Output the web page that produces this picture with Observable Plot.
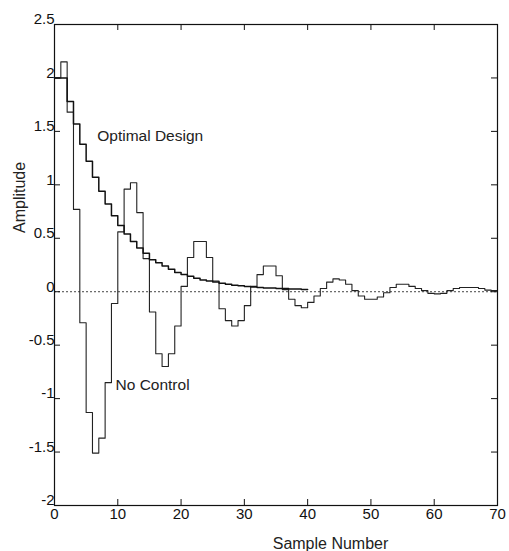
<!DOCTYPE html>
<html>
<head>
<meta charset="utf-8">
<script src="https://cdn.jsdelivr.net/npm/d3@7"></script>
<script src="https://cdn.jsdelivr.net/npm/@observablehq/plot@0.6"></script>
<style>
  html, body { margin: 0; padding: 0; background: #fff; }
  #chart { width: 509px; height: 551px; }
</style>
</head>
<body>
<div id="chart"></div>
<script>
// Sample values, one value per sample interval
const noControl = [
  2.00, 2.15, 1.68, 0.77, -0.29, -1.13, -1.51, -1.37, -0.85, -0.11,
  0.56, 0.96, 1.02, 0.74, 0.31, -0.19, -0.58, -0.70, -0.58, -0.32,
  0.05, 0.32, 0.47, 0.47, 0.32, 0.10, -0.16, -0.27, -0.32, -0.27,
  -0.13, 0.05, 0.16, 0.24, 0.24, 0.15, 0.02, -0.07, -0.13, -0.15,
  -0.10, -0.04, 0.03, 0.09, 0.12, 0.11, 0.07, 0.01, -0.04, -0.07,
  -0.07, -0.05, -0.01, 0.04, 0.07, 0.07, 0.05, 0.03, 0.01, -0.015,
  -0.02, -0.015, 0.01, 0.03, 0.04, 0.04, 0.04, 0.03, 0.015, 0.01
];
const optimalDesign = [
  2.00, 2.00, 1.78, 1.57, 1.38, 1.22, 1.07, 0.94, 0.82, 0.71,
  0.62, 0.54, 0.47, 0.41, 0.36, 0.30, 0.27, 0.24, 0.21, 0.18,
  0.16, 0.145, 0.125, 0.11, 0.10, 0.09, 0.08, 0.07, 0.06, 0.055,
  0.05, 0.045, 0.04, 0.035, 0.035, 0.03, 0.03, 0.025, 0.025, 0.02
];
const xTicks = [0, 10, 20, 30, 40, 50, 60, 70];
const yTicks = [-2, -1.5, -1, -0.5, 0, 0.5, 1, 1.5, 2, 2.5];
const seriesLabels = ["Optimal Design", "No Control"];
const labelPos = [{x: 6.75, y: 1.455}, {x: 9.64, y: -0.875}];
const xTitle = "Sample Number";
const yTitle = "Amplitude";

// stairs: each value holds from sample k to k+1
function stairs(vals) {
  const pts = vals.map((v, i) => ({x: i, y: v}));
  pts.push({x: vals.length, y: vals[vals.length - 1]});
  return pts;
}

const W = 509, H = 551;
const mL = 54, mR = 12, mT = 24, mB = 46;
const pw = W - mL - mR, ph = H - mT - mB;
const tl = 6;
const font = "Liberation Sans, Arial, Helvetica, sans-serif";

const chart = Plot.plot({
  width: W, height: H,
  marginLeft: mL, marginRight: mR, marginTop: mT, marginBottom: mB,
  style: {fontFamily: font, fontSize: "15px", background: "#fff", color: "#111"},
  x: {domain: [0, 70]},
  y: {domain: [-2, 2.5]},
  marks: [
    Plot.ruleY([0], {stroke: "#444", strokeDasharray: "2,2", strokeWidth: 1}),
    Plot.line(stairs(noControl), {x: "x", y: "y", curve: "step-after", stroke: "#222", strokeWidth: 1.1}),
    Plot.line(stairs(optimalDesign), {x: "x", y: "y", curve: "step-after", stroke: "#111", strokeWidth: 1.5}),
    Plot.text(seriesLabels, {x: (d, i) => labelPos[i].x, y: (d, i) => labelPos[i].y, text: d => d,
      textAnchor: "start", fontSize: 15.5, fill: "#222"}),
    // inward ticks
    Plot.tickY(yTicks, {y: d => d, insetRight: pw - tl, stroke: "#111"}),
    Plot.tickY(yTicks, {y: d => d, insetLeft: pw - tl, stroke: "#111"}),
    Plot.tickX(xTicks, {x: d => d, insetTop: ph - tl, stroke: "#111"}),
    Plot.tickX(xTicks, {x: d => d, insetBottom: ph - tl, stroke: "#111"}),
    Plot.axisY({ticks: yTicks, tickSize: 0, tickPadding: 0, tickFormat: d => String(d), dy: -5, label: null, fontSize: 15}),
    Plot.axisX({ticks: xTicks, tickSize: 0, tickPadding: 3, tickFormat: d => String(d), label: null, fontSize: 15}),
    Plot.frame({stroke: "#111", strokeWidth: 1.2}),
    Plot.text([xTitle], {frameAnchor: "bottom", dx: 54.5, dy: 38, lineAnchor: "middle", fontSize: 16, fill: "#222"}),
    Plot.text([yTitle], {frameAnchor: "left", rotate: -90, dx: -35, dy: -32, lineAnchor: "middle", fontSize: 16, fill: "#222"})
  ]
});
document.getElementById("chart").appendChild(chart);
</script>
</body>
</html>
